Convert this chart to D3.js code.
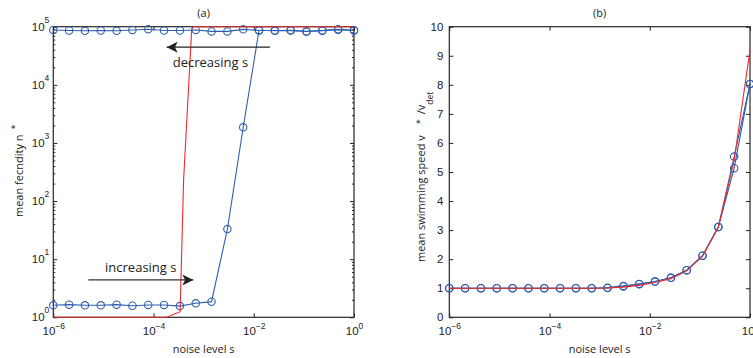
<!DOCTYPE html>
<html>
<head>
<meta charset="utf-8">
<script src="https://cdn.jsdelivr.net/npm/d3@7"></script>
<style>
body { margin: 0; background: #fff; }
svg { font-family: "Open Sans", sans-serif; }
.axis text { font-size: 11.5px; fill: #222; }
.axis line { stroke: #222; }
.axis path { display: none; }
</style>
</head>
<body>
<script>
//noise levels s where the simulations were run (20 points, 1e-6 .. 1)
var noise = [1.000e-6, 2.069e-6, 4.281e-6, 8.859e-6, 1.833e-5, 3.793e-5, 7.848e-5, 1.624e-4, 3.360e-4, 6.952e-4,
             1.438e-3, 2.976e-3, 6.158e-3, 1.274e-2, 2.637e-2, 5.456e-2, 0.1129, 0.2336, 0.4833, 1];

//panel (a): mean fecundity
var fecDecreasing = [88000, 86000, 85000, 86000, 85000, 88000, 90500, 86000, 86000, 88000,
                     83000, 83000, 90000, 86000, 86000, 86000, 83000, 86000, 90000, 86000];
var fecIncreasing = [1.61, 1.65, 1.61, 1.61, 1.65, 1.58, 1.63, 1.63, 1.56, 1.74,
                     1.86, 33, 1860, 87000, 85000, 86500, 82500, 85500, 89000, 86500];
var fecTheoryNoise = [1e-6, 1.84e-4, 3.39e-4, 3.98e-4, 5.79e-4, 6.31e-4, 1];
var fecTheory = [1, 1, 1.25, 231, 94300, 100000, 100000];

//panel (b): mean swimming speed relative to deterministic
var speedIncreasing = [1, 1, 1, 1, 1, 1, 1, 1, 1, 1,
                       1.02, 1.08, 1.14, 1.23, 1.36, 1.62, 2.12, 3.11, 5.53, 8.03];
var speedDecreasing = [1, 1, 1, 1, 1, 1, 1, 1, 1, 1,
                       1.01, 1.06, 1.15, 1.23, 1.36, 1.62, 2.12, 3.11, 5.13, 8.03];
var speedTheory = [1, 1, 1, 1, 1, 1, 1, 1, 1, 1,
                   1.01, 1.04, 1.10, 1.20, 1.33, 1.60, 2.10, 3.10, 5.40, 9.20];

//tick values and labels
var noiseTicks = [1e-6, 1e-4, 1e-2, 1];
var fecTicks = [1, 10, 100, 1000, 1e4, 1e5];
var speedTicks = [0, 1, 2, 3, 4, 5, 6, 7, 8, 9, 10];
var panelTitles = ["(a)", "(b)"];

var width = 753, height = 358;
var blue = "#2d5fae", red = "#ee2b2b";

var svg = d3.select("body").append("svg")
    .attr("width", width)
    .attr("height", height);

//arrow head for the annotations
svg.append("defs").append("marker")
    .attr("id", "head")
    .attr("viewBox", "0 -5 10 10")
    .attr("refX", 10)
    .attr("refY", 0)
    .attr("markerUnits", "userSpaceOnUse")
    .attr("markerWidth", 13)
    .attr("markerHeight", 11)
    .attr("orient", "auto")
    .append("path")
    .attr("d", "M0,-5L10,0L0,5L2.5,0Z")
    .attr("fill", "#222");

var plotTop = 26.7, plotBottom = 317.3;

//scales
var xA = d3.scaleLog().domain([1e-6, 1]).range([53.3, 354]);
var yA = d3.scaleLog().domain([1, 1e5]).range([plotBottom, plotTop]);
var xB = d3.scaleLog().domain([1e-6, 1]).range([449.3, 750]);
var yB = d3.scaleLinear().domain([0, 10]).range([plotBottom, plotTop]);

//turn "1e-4" ticks into 10 with a superscript
function powerLabels(sel, rise) {
    sel.selectAll(".tick text").each(function(d) {
        var e = Math.round(Math.log10(d));
        var t = d3.select(this).text("10");
        t.append("tspan")
            .attr("font-size", "8.5px")
            .attr("dy", rise)
            .text(e < 0 ? "\u2212" + (-e) : e);
    });
}

function frame(x, y, yTicks, minor, log) {
    var x0 = x.range()[0], x1 = x.range()[1];

    svg.append("g").attr("class", "axis")
        .attr("transform", "translate(0," + plotBottom + ")")
        .call(d3.axisBottom(x).tickValues(noiseTicks).tickSize(-4).tickPadding(10))
        .call(powerLabels, "-0.75em");
    svg.append("g").attr("class", "axis")
        .attr("transform", "translate(0," + plotTop + ")")
        .call(d3.axisTop(x).tickValues(noiseTicks).tickSize(-4).tickFormat(""));

    var left = svg.append("g").attr("class", "axis")
        .attr("transform", "translate(" + x0 + ",0)")
        .call(d3.axisLeft(y).tickValues(yTicks).tickSize(-4).tickPadding(log ? 4 : 6)
            .tickFormat(log ? null : d3.format("d")));
    if (log) left.call(powerLabels, "-0.95em");
    svg.append("g").attr("class", "axis")
        .attr("transform", "translate(" + x1 + ",0)")
        .call(d3.axisRight(y).tickValues(yTicks).tickSize(-4).tickFormat(""));

    if (minor.length) {
        svg.append("g").attr("class", "axis")
            .attr("transform", "translate(" + x0 + ",0)")
            .call(d3.axisLeft(y).tickValues(minor).tickSize(-2).tickFormat(""));
        svg.append("g").attr("class", "axis")
            .attr("transform", "translate(" + x1 + ",0)")
            .call(d3.axisRight(y).tickValues(minor).tickSize(-2).tickFormat(""));
    }

    //axes box
    svg.append("rect")
        .attr("x", x0).attr("y", plotTop)
        .attr("width", x1 - x0).attr("height", plotBottom - plotTop)
        .attr("fill", "none")
        .attr("stroke", "#262626")
        .attr("stroke-width", 1.2);

    svg.append("text")
        .attr("x", (x0 + x1) / 2).attr("y", 353)
        .attr("text-anchor", "middle")
        .attr("font-size", "11px").attr("fill", "#222")
        .text("noise level s");
}

function series(x, y, xs, ys, color, markers) {
    var line = d3.line()
        .x(function(d, i) { return x(xs[i]); })
        .y(function(d) { return y(d); });
    svg.append("path")
        .datum(ys)
        .attr("d", line)
        .attr("fill", "none")
        .attr("stroke", color)
        .attr("stroke-width", 1.1);
    if (markers) {
        svg.append("g").selectAll("circle")
            .data(ys)
            .enter().append("circle")
            .attr("cx", function(d, i) { return x(xs[i]); })
            .attr("cy", function(d) { return y(d); })
            .attr("r", 3.7)
            .attr("fill", "none")
            .attr("stroke", color)
            .attr("stroke-width", 1.1);
    }
}

//minor log ticks 2..9 in every decade
var fecMinor = [];
fecTicks.slice(0, -1).forEach(function(p) {
    for (var m = 2; m < 10; m++) fecMinor.push(m * p);
});

frame(xA, yA, fecTicks, fecMinor, true);
frame(xB, yB, speedTicks, [], false);

//panel (a) data
series(xA, yA, noise, fecDecreasing, blue, true);
series(xA, yA, noise, fecIncreasing, blue, true);
series(xA, yA, fecTheoryNoise, fecTheory, red, false);

//panel (b) data
series(xB, yB, noise, speedDecreasing, blue, true);
series(xB, yB, noise, speedIncreasing, blue, true);
series(xB, yB, noise, speedTheory, red, false);

//titles
[xA, xB].forEach(function(x, i) {
    svg.append("text")
        .attr("x", (x.range()[0] + x.range()[1]) / 2).attr("y", 17)
        .attr("text-anchor", "middle")
        .attr("font-size", "11px").attr("fill", "#222")
        .text(panelTitles[i]);
});

//y labels
var ylA = svg.append("text")
    .attr("transform", "translate(22.7,217) rotate(-90)")
    .attr("font-size", "11px").attr("fill", "#222")
    .text("mean fecndity n");
ylA.append("tspan").attr("dx", 5).attr("dy", -5).attr("font-size", "9px").text("*");

var ylB = svg.append("text")
    .attr("transform", "translate(424.5,262) rotate(-90)")
    .attr("font-size", "11px").attr("fill", "#222")
    .text("mean swimming speed v");
ylB.append("tspan").attr("dx", 11).attr("dy", -1.5).attr("font-size", "9px").text("*");
ylB.append("tspan").attr("dx", 5).attr("dy", 1.5).text("/v");
ylB.append("tspan").attr("dy", 8).attr("font-size", "8.5px").text("det");

//annotations: hysteresis arrows
svg.append("line")
    .attr("x1", xA(2.11e-2)).attr("y1", yA(44400))
    .attr("x2", xA(1.83e-4)).attr("y2", yA(44400))
    .attr("stroke", "#222").attr("stroke-width", 1.3)
    .attr("marker-end", "url(#head)");
svg.append("text")
    .attr("x", xA(2.42e-4)).attr("y", yA(20600))
    .attr("font-size", "13px").attr("fill", "#222")
    .text("decreasing s");

svg.append("line")
    .attr("x1", xA(5.0e-6)).attr("y1", yA(4.39))
    .attr("x2", xA(6.22e-4)).attr("y2", yA(4.39))
    .attr("stroke", "#333").attr("stroke-width", 1.3)
    .attr("marker-end", "url(#head)");
svg.append("text")
    .attr("x", xA(1.08e-5)).attr("y", yA(6.1))
    .attr("font-size", "13px").attr("fill", "#222")
    .text("increasing s");
</script>
</body>
</html>
